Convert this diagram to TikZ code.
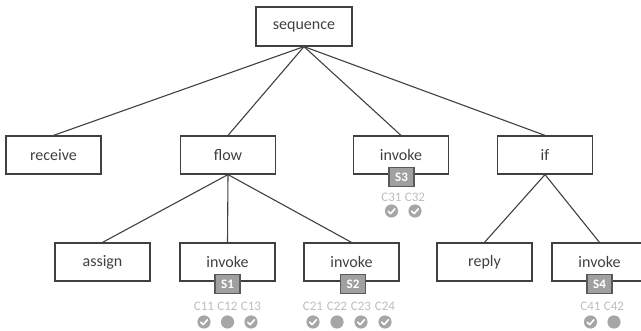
\documentclass[tikz,border=0pt]{standalone}
\usepackage{fontspec}
\setmainfont{Carlito}
\usetikzlibrary{calc}
\definecolor{ink}{HTML}{404040}
\definecolor{badgefill}{HTML}{A0A0A0}
\definecolor{badgeline}{HTML}{595959}
\definecolor{condtext}{HTML}{BDBDBD}
\definecolor{condfill}{HTML}{A6A6A6}
\tikzset{
  act/.style={draw=ink, line width=1.2pt, fill=white, minimum width=95pt, minimum height=38pt,
    inner sep=0pt, text=ink, font=\fontsize{16}{19}\selectfont},
  badge/.style={draw=badgeline, line width=1.1pt, fill=badgefill, minimum width=25pt, minimum height=19pt,
    inner sep=0pt, text=white, font=\fontsize{13}{15}\selectfont\bfseries},
  cond/.style={text=condtext, inner sep=0pt, font=\fontsize{13}{15}\selectfont},
  link/.style={draw=ink, line width=1.1pt},
  dot/.style={fill=condfill, draw=none},
  tick/.style={draw=white, line width=1.6pt, line cap=round, line join=round}
}
% a condition marker: label above a grey dot
\newcommand{\condmark}[5]{% name, x, y-label, y-dot, text
  \node[cond] (#1) at (#2,#3) {#5};
  \fill[dot] (#2,#4) circle (6.6pt);
}
% white tick drawn inside a dot
\newcommand{\tickmark}[2]{%
  \draw[tick] ($(#1,#2)+(-3.2,0.2)$) -- ($(#1,#2)+(-0.8,2.6)$) -- ($(#1,#2)+(3.4,-2.2)$);
}
\begin{document}
\begin{tikzpicture}[x=1pt,y=-1pt]
\useasboundingbox (0,0) rectangle (641,331);

% activity tree
\node[act, minimum width=96pt, minimum height=39pt] (seq) at (304,26.5) {sequence};
\node[act] (recv) at (53.5,155) {receive};
\node[act] (flow) at (228,155) {flow};
\node[act] (inv3) at (401,155) {invoke};
\node[act] (if)   at (545,155) {if};
\node[act] (asg)  at (102.5,262) {assign};
\node[act] (inv1) at (227.5,262) {invoke};
\node[act] (inv2) at (351.5,262) {invoke};
\node[act] (rep)  at (484.5,262) {reply};
\node[act] (inv4) at (599.5,262) {invoke};

% connectors
\foreach \t in {recv,flow,inv3,if} \draw[link] (seq.south) -- (\t.north);
\foreach \t in {asg,inv1,inv2} \draw[link] (flow.south) -- (\t.north);
\foreach \t in {rep,inv4} \draw[link] (if.south) -- (\t.north);

% service badges
\node[badge] (s1) at ($(inv1.south)+(0,2.5)$) {S1};
\node[badge] (s2) at ($(inv2.south)+(1.5,2.5)$) {S2};
\node[badge] (s3) at ($(inv3.south)+(0.5,2.5)$) {S3};
\node[badge] (s4) at ($(inv4.south)+(0,2.5)$) {S4};

% conditions of S1
\condmark{c11}{204}{306}{322}{C11}\tickmark{204}{322}
\condmark{c12}{227.5}{306}{322}{C12}
\condmark{c13}{251}{306}{322}{C13}\tickmark{251}{322}
% conditions of S2
\condmark{c21}{313}{306}{322}{C21}\tickmark{313}{322}
\condmark{c22}{337}{306}{322}{C22}
\condmark{c23}{361}{306}{322}{C23}\tickmark{361}{322}
\condmark{c24}{385}{306}{322}{C24}\tickmark{385}{322}
% conditions of S3
\condmark{c31}{391.5}{197}{211}{C31}\tickmark{391.5}{211}
\condmark{c32}{415}{197}{211}{C32}\tickmark{415}{211}
% conditions of S4
\condmark{c41}{590.5}{306}{322}{C41}\tickmark{590.5}{322}
\condmark{c42}{614}{306}{322}{C42}
\end{tikzpicture}
\end{document}
